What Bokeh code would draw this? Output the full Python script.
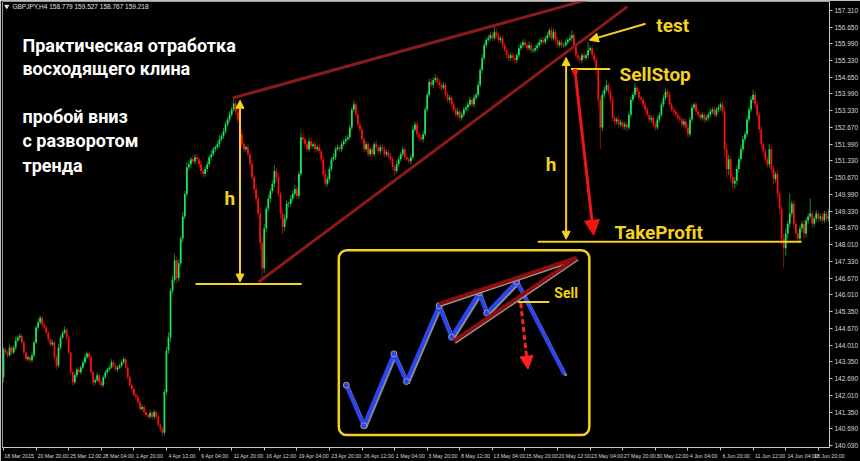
from bokeh.plotting import figure
from bokeh.models import (Range1d, FixedTicker, ColumnDataSource, BoxAnnotation,
                          Arrow, NormalHead, PrintfTickFormatter)
from bokeh.core.properties import value
from bokeh.embed import file_html
from bokeh.resources import INLINE

# GBPJPY H4 closes, bar by bar
close = [
    143.84, 143.72, 143.61, 143.92, 143.72, 143.92, 144.20, 144.32, 144.39, 144.12,
    143.72, 143.45, 143.53, 143.41, 143.61, 144.12, 144.71, 144.91, 145.10, 144.83,
    144.71, 144.51, 144.24, 144.04, 144.12, 143.53, 143.21, 143.92, 144.32, 144.51,
    144.63, 144.32, 143.72, 142.94, 142.54, 142.82, 143.05, 142.94, 143.13, 143.33,
    143.53, 143.68, 143.53, 142.94, 142.54, 142.62, 142.82, 142.54, 142.42, 142.74,
    142.94, 143.05, 143.13, 143.33, 143.21, 143.05, 143.13, 143.21, 143.33, 143.45,
    143.13, 142.74, 142.42, 142.27, 142.03, 141.95, 141.76, 141.48, 141.56, 141.36,
    141.24, 141.17, 141.32, 141.17, 141.36, 141.17, 140.85, 140.69, 140.53, 142.15,
    143.80, 144.32, 146.17, 146.60, 147.39, 146.68, 147.27, 148.25, 149.12, 150.02,
    151.08, 151.20, 151.40, 151.32, 151.48, 151.40, 151.20, 150.93, 150.81, 151.01,
    151.20, 151.48, 151.60, 151.80, 151.87, 151.99, 152.19, 152.31, 152.50, 152.78,
    152.98, 153.17, 153.37, 153.61, 153.29, 152.98, 152.39, 151.99, 151.80, 151.87,
    151.60, 151.20, 150.69, 150.22, 149.83, 149.24, 148.06, 147.07, 148.65, 149.43,
    149.83, 150.14, 150.42, 150.93, 150.69, 150.02, 149.24, 148.72, 149.04, 149.63,
    149.63, 149.83, 150.02, 150.22, 149.94, 150.81, 152.27, 152.19, 151.99, 151.80,
    152.11, 151.91, 151.99, 151.80, 151.87, 151.72, 151.40, 150.81, 150.42, 150.61,
    151.01, 151.40, 151.48, 151.80, 151.87, 151.80, 151.99, 152.11, 152.19, 152.27,
    152.66, 153.37, 153.57, 153.17, 152.78, 152.58, 152.19, 151.80, 151.99, 151.60,
    151.80, 151.60, 151.99, 151.87, 151.72, 151.87, 151.80, 151.60, 151.68, 151.52,
    151.40, 151.09, 150.93, 151.20, 151.40, 151.60, 151.80, 151.48, 151.40, 151.32,
    151.48, 152.58, 152.78, 152.39, 152.27, 152.19, 152.39, 153.37, 153.96, 154.47,
    154.35, 154.55, 154.63, 154.47, 154.35, 154.24, 154.35, 153.96, 153.76, 153.84,
    153.57, 153.37, 153.17, 153.29, 153.05, 153.17, 153.37, 153.45, 153.57, 153.76,
    153.57, 153.84, 153.96, 154.35, 154.94, 155.42, 155.93, 156.13, 156.20, 156.32,
    156.20, 156.44, 156.32, 156.13, 156.20, 155.93, 155.73, 155.53, 155.42, 155.53,
    155.42, 155.34, 155.53, 155.81, 155.93, 156.05, 155.93, 155.81, 155.93, 155.73,
    155.73, 155.81, 155.93, 156.05, 156.13, 156.05, 156.20, 156.32, 156.52, 156.20,
    156.44, 156.13, 155.93, 156.05, 155.93, 155.93, 156.05, 156.13, 156.20, 156.32,
    155.93, 155.53, 155.42, 155.34, 155.53, 155.42, 155.53, 155.73, 155.81, 155.53,
    155.34, 154.94, 153.76, 152.66, 153.96, 154.16, 154.35, 154.08, 153.76, 153.05,
    152.90, 152.98, 152.78, 152.86, 152.70, 152.78, 152.66, 153.17, 153.76, 153.96,
    154.24, 154.08, 153.84, 153.76, 153.57, 153.37, 153.17, 152.98, 153.05, 152.78,
    152.66, 152.98, 153.17, 153.57, 153.84, 154.08, 153.96, 153.57, 153.37, 153.29,
    153.17, 153.05, 152.98, 152.78, 152.90, 152.66, 152.39, 152.98, 153.45, 153.57,
    153.29, 153.17, 153.05, 153.17, 152.98, 153.05, 153.17, 153.29, 153.37, 153.17,
    153.37, 153.45, 153.57, 153.29, 151.80, 151.01, 151.40, 150.69, 150.42, 150.54,
    151.01, 151.40, 151.80, 152.19, 152.39, 152.98, 153.37, 153.76, 153.96, 153.57,
    153.17, 152.58, 151.99, 151.72, 151.40, 151.20, 151.80, 151.01, 150.61, 150.81,
    150.02, 149.43, 148.25, 147.86, 148.45, 148.84, 149.24, 149.63, 148.84, 148.45,
    148.25, 148.65, 148.84, 148.45, 148.96, 149.12, 149.24, 148.84, 149.04, 149.24,
    149.04, 149.12, 148.96, 149.24, 149.04, 149.12,
]
first_open = 142.74

# shadow lengths above / below the body, in pips (0.01 JPY)
upper_wick_pips = [
    10, 6, 8, 12, 7, 9, 14, 8, 10, 6, 8, 5, 9, 6, 12, 10, 8, 15, 9, 7,
    6, 10, 5, 8, 12, 7, 9, 14, 10, 8, 12, 6, 8, 5, 9, 10, 7, 12, 8, 10,
    15, 8, 6, 10, 5, 9, 12, 7, 10, 8, 9, 6, 8, 12, 7, 10, 8, 6, 11, 9,
    7, 10, 5, 8, 6, 9, 12, 7, 10, 8, 10, 6, 12, 8, 9, 7, 10, 6, 8, 12,
    15, 20, 10, 18, 25, 12, 15, 10, 18, 12, 20, 15, 10, 18, 12, 14, 9, 12, 16, 10,
    12, 8, 15, 10, 9, 12, 16, 10, 14, 11, 9, 14, 10, 23, 12, 15, 10, 18, 12, 9,
    14, 10, 16, 12, 20, 15, 25, 30, 18, 12, 16, 10, 14, 25, 12, 18, 10, 14, 16, 12,
    10, 14, 12, 16, 10, 12, 20, 15, 10, 14, 12, 16, 10, 12, 9, 14, 10, 12, 16, 10,
    12, 9, 14, 10, 12, 8, 11, 9, 13, 10, 12, 10, 15, 9, 12, 10, 14, 8, 12, 10,
    9, 12, 10, 14, 8, 11, 9, 12, 10, 8, 12, 10, 9, 14, 11, 10, 12, 8, 10, 9,
    12, 14, 10, 12, 9, 11, 14, 12, 10, 13, 12, 10, 14, 9, 12, 10, 11, 9, 12, 10,
    9, 12, 10, 14, 8, 12, 10, 9, 11, 12, 10, 12, 9, 14, 12, 16, 12, 10, 14, 12,
    14, 24, 12, 10, 9, 12, 10, 14, 9, 11, 10, 12, 9, 14, 11, 10, 12, 9, 13, 10,
    9, 12, 10, 13, 11, 12, 10, 14, 9, 16, 14, 10, 12, 9, 11, 10, 12, 9, 14, 20,
    12, 10, 14, 11, 9, 12, 10, 32, 10, 12, 14, 12, 10, 16, 14, 12, 18, 10, 12, 14,
    12, 10, 14, 12, 9, 12, 10, 14, 12, 10, 19, 10, 12, 9, 11, 10, 12, 9, 10, 12,
    10, 12, 9, 11, 12, 12, 10, 14, 9, 11, 10, 12, 9, 11, 10, 12, 14, 10, 12, 9,
    11, 10, 12, 9, 10, 12, 9, 11, 10, 12, 10, 12, 9, 14, 20, 25, 18, 14, 20, 16,
    15, 12, 18, 14, 12, 16, 12, 14, 20, 12, 14, 12, 16, 10, 14, 12, 20, 12, 14, 10,
    16, 12, 14, 18, 20, 14, 80, 12, 16, 12, 14, 10, 12, 16, 12, 14, 60, 12, 10, 14,
    12, 10, 14, 12, 10, 30,
]
lower_wick_pips = [
    20, 8, 10, 6, 9, 7, 10, 8, 12, 6, 10, 8, 6, 12, 7, 9, 6, 10, 8, 12,
    9, 7, 12, 8, 6, 14, 16, 8, 10, 7, 8, 12, 7, 10, 14, 8, 10, 6, 9, 7,
    8, 6, 10, 12, 16, 10, 7, 12, 9, 8, 7, 10, 8, 6, 9, 8, 10, 7, 9, 6,
    9, 12, 8, 10, 7, 12, 9, 11, 8, 10, 8, 10, 7, 12, 9, 10, 8, 12, 15, 10,
    12, 14, 18, 12, 10, 20, 14, 12, 15, 10, 14, 12, 15, 10, 12, 14, 16, 12, 15, 10,
    12, 10, 14, 9, 12, 10, 14, 9, 11, 10, 9, 12, 10, 8, 14, 12, 16, 14, 12, 10,
    12, 16, 14, 18, 20, 16, 25, 55, 20, 15, 12, 16, 10, 14, 18, 12, 20, 30, 16, 12,
    14, 10, 12, 9, 14, 12, 10, 16, 12, 10, 10, 12, 9, 14, 10, 12, 16, 12, 14, 10,
    12, 10, 9, 11, 8, 10, 12, 9, 10, 8, 9, 12, 10, 14, 12, 10, 14, 12, 10, 12,
    10, 12, 9, 11, 10, 12, 9, 13, 10, 12, 14, 12, 18, 10, 12, 9, 10, 12, 9, 11,
    12, 10, 9, 12, 14, 10, 12, 9, 11, 10, 9, 12, 10, 11, 12, 10, 9, 12, 11, 10,
    12, 14, 10, 12, 15, 11, 10, 9, 12, 10, 10, 12, 9, 11, 10, 12, 10, 12, 9, 11,
    10, 9, 12, 10, 11, 12, 10, 12, 14, 10, 12, 10, 11, 9, 10, 12, 10, 11, 9, 12,
    10, 9, 12, 10, 11, 12, 10, 9, 11, 10, 10, 12, 11, 9, 12, 10, 9, 11, 10, 12,
    18, 12, 14, 10, 12, 11, 10, 12, 9, 14, 12, 16, 30, 86, 14, 12, 10, 14, 12, 16,
    14, 12, 16, 10, 14, 12, 16, 10, 12, 10, 12, 10, 11, 12, 9, 14, 12, 10, 12, 11,
    14, 10, 12, 9, 11, 10, 12, 11, 10, 12, 10, 12, 14, 11, 12, 16, 14, 10, 12, 10,
    12, 10, 11, 12, 14, 10, 12, 11, 9, 10, 11, 10, 12, 14, 30, 35, 25, 20, 22, 18,
    16, 14, 12, 14, 10, 12, 14, 10, 12, 14, 12, 14, 16, 18, 12, 14, 12, 16, 20, 14,
    16, 20, 25, 79, 30, 20, 16, 14, 20, 18, 20, 16, 14, 22, 16, 14, 12, 18, 14, 12,
    14, 12, 16, 10, 12, 14,
]

# right price scale
price_ticks = [157.31, 156.65, 155.99, 155.33, 154.65, 153.99, 153.33, 152.67, 151.99,
               151.33, 150.67, 149.99, 149.33, 148.67, 148.01, 147.33, 146.67, 146.01,
               145.35, 144.67, 144.01, 143.35, 142.69, 142.01, 141.35, 140.69, 140.03]

# time scale: one label every 16 bars
time_labels = ["18 Mar 2015", "20 Mar 20:00", "25 Mar 12:00", "28 Mar 04:00", "1 Apr 20:00",
               "4 Apr 12:00", "9 Apr 04:00", "11 Apr 20:00", "16 Apr 12:00", "19 Apr 04:00",
               "23 Apr 20:00", "26 Apr 12:00", "1 May 04:00", "3 May 20:00", "8 May 12:00",
               "13 May 04:00", "15 May 20:00", "20 May 12:00", "23 May 04:00", "27 May 20:00",
               "30 May 12:00", "4 Jun 04:00", "6 Jun 20:00", "11 Jun 12:00", "14 Jun 04:00",
               "18 Jun 20:00"]
label_bars = [16 * k for k in range(len(time_labels))]

# schematic rising wedge for the inset (0..100 box units)
scheme_x = [3, 10, 22, 27, 40, 45, 56, 59, 71, 90]
scheme_y = [27, 5, 44, 29, 70, 53, 77, 66, 83, 33]

YELLOW = "#f5d21e"
WEDGE = "#8b1a1a"
TIME_FONT_PX = 5.3
PX_PER_BAR = 2.047
X_END = 405.5
Y_START, Y_END = 139.948, 157.664

n = len(close)
idx = list(range(n))
opens = [first_open] + close[:-1]
high = [max(o, c) + u / 100 for o, c, u in zip(opens, close, upper_wick_pips)]
low = [min(o, c) - d / 100 for o, c, d in zip(opens, close, lower_wick_pips)]
top = [max(o, c) if abs(o - c) > 0.015 else max(o, c) + 0.01 for o, c in zip(opens, close)]
bottom = [min(o, c) if abs(o - c) > 0.015 else min(o, c) - 0.01 for o, c in zip(opens, close)]
up = [c >= o for o, c in zip(opens, close)]
body_col = ["#1ee85a" if u else "#ff1010" for u in up]
wick_col = ["#0f8a32" if u else "#960c0c" for u in up]

src = ColumnDataSource(dict(x=idx, high=high, low=low, top=top, bottom=bottom,
                            body=body_col, wick=wick_col))

p = figure(width=860, height=461, output_backend="svg", toolbar_location=None,
           x_range=Range1d(-0.49, X_END), y_range=Range1d(Y_START, Y_END),
           y_axis_location="right", min_border_left=2, min_border_top=1,
           min_border_right=27, min_border_bottom=10,
           background_fill_color="black", border_fill_color="black")
p.grid.visible = False
p.outline_line_color = "#9a9a9a"
p.outline_line_width = 1

ya = p.yaxis[0]
ya.ticker = FixedTicker(ticks=price_ticks)
ya.formatter = PrintfTickFormatter(format="%.3f")
ya.major_label_text_font = "Liberation Sans"
ya.major_label_text_font_size = "6.5px"
ya.major_label_text_color = "#d8d8d8"
ya.major_label_standoff = 2
ya.major_tick_out = 3
ya.major_tick_in = 0
ya.minor_tick_out = 0
ya.minor_tick_in = 0
ya.axis_line_color = "#c8c8c8"
ya.major_tick_line_color = "#c8c8c8"

# time labels start just right of their tick, as on a trading terminal;
# the last one is pulled back inside the chart so the axis still draws it
xa = p.xaxis[0]
char_px = 0.49 * TIME_FONT_PX
label_shift = [(len(t) * char_px / 2 + 1.5) / PX_PER_BAR for t in time_labels]
shifted = [round(min(b + s, X_END - 0.1), 3) for b, s in zip(label_bars, label_shift)]
xa.ticker = FixedTicker(ticks=shifted, minor_ticks=label_bars)
xa.major_label_overrides = {t: lab for t, lab in zip(shifted, time_labels)}
xa.major_label_text_font = "Liberation Sans"
xa.major_label_text_font_size = f"{TIME_FONT_PX}px"
xa.major_label_text_color = "#d8d8d8"
xa.major_label_standoff = 2
xa.major_tick_out = 0
xa.major_tick_in = 0
xa.minor_tick_out = 3
xa.minor_tick_in = 0
xa.axis_line_color = "#c8c8c8"
xa.minor_tick_line_color = "#c8c8c8"

# candles
p.segment(x0="x", y0="low", x1="x", y1="high", line_color="wick", line_width=1, source=src)
p.vbar(x="x", width=0.85, top="top", bottom="bottom", fill_color="body",
       line_color=None, source=src)

# rising wedge boundaries
p.line([112.5, 286.8], [153.83, 157.74], line_color=WEDGE, line_width=3)
p.line([125.2, 306.3], [146.52, 157.46], line_color=WEDGE, line_width=3)

# pattern height, targets and entry
p.line([94.3, 146.4], [146.44, 146.44], line_color=YELLOW, line_width=2)
p.line([262.3, 391.8], [148.12, 148.12], line_color=YELLOW, line_width=2)
p.line([278.6, 297.8], [154.98, 154.98], line_color=YELLOW, line_width=2)


def yhead(size):
    return NormalHead(size=size, fill_color=YELLOW, line_color=YELLOW)


p.add_layout(Arrow(start=yhead(8), end=yhead(8), x_start=116.1, y_start=153.74,
                   x_end=116.1, y_end=146.52, line_color=YELLOW, line_width=2))
p.add_layout(Arrow(start=yhead(8), end=yhead(8), x_start=276.2, y_start=155.44,
                   x_end=276.2, y_end=148.22, line_color=YELLOW, line_width=2))
p.add_layout(Arrow(end=yhead(9), x_start=315.2, y_start=156.78, x_end=287.6,
                   y_end=156.13, line_color=YELLOW, line_width=2))
p.add_layout(Arrow(end=NormalHead(size=15, fill_color="#f01414", line_color="#f01414"),
                   x_start=280.6, y_start=154.88, x_end=289.7, y_end=148.38,
                   line_color="#f01414", line_width=3))
p.scatter([280.6], [154.88], size=5, color="#f01414")

# captions
title_font = value("Roboto")
p.text(x=[9.3] * 5, y=[155.93, 155.00, 153.08, 152.16, 151.16],
       text=["Практическая отработка", "восходящего клина", "пробой вниз",
             "с разворотом", "тренда"],
       text_font=title_font, text_font_style="bold", text_font_size="18px",
       text_color="white", text_baseline="alphabetic", text_align="left")
p.text(x=[108.5, 266.2, 320.5, 302.4, 300.0], y=[149.83, 151.20, 156.70, 154.75, 148.48],
       text=["h", "h", "test", "SellStop", "TakeProfit"],
       text_font=title_font, text_font_style="bold", text_font_size="19px",
       text_color=YELLOW, text_baseline="alphabetic", text_align="left")
p.text(x=[4.4], y=[157.46], text=["GBPJPY,H4  158.779 159.527 158.767 159.218"],
       text_font=value("Liberation Sans"), text_font_size="6.5px", text_color="#e0e0e0",
       text_baseline="middle", text_align="left")
p.scatter([1.6], [157.47], marker="inverted_triangle", size=4, color="#e0e0e0")

# inset: schematic of the wedge breakdown
L, R, T, B = 164.6, 287.6, 147.78, 140.44


def bx(u):
    return L + (R - L) * u / 100


def by(v):
    return B + (T - B) * v / 100


sx = [bx(u) for u in scheme_x]
sy = [by(v) for v in scheme_y]
p.line([x + 0.9 for x in sx], [y - 0.07 for y in sy], line_color="#8a8a8a", line_width=3)
p.line(sx, sy, line_color="#2a44f2", line_width=4)
p.scatter(sx[:-1], sy[:-1], size=6, fill_color="#2a44f2", line_color="#9a9a9a")
for (u0, v0) in [(40, 71), (46, 51)]:
    p.line([bx(u0) + 0.6, bx(95) + 0.6], [by(v0) - 0.08, by(96) - 0.08],
           line_color="#9a9a9a", line_width=2)
    p.line([bx(u0), bx(95)], [by(v0), by(96)], line_color="#8b0d0d", line_width=4)
p.line([bx(71.5), bx(84)], [by(72), by(72)], line_color=YELLOW, line_width=2)
p.text(x=[bx(86)], y=[by(76.8)], text=["Sell"], text_font=title_font,
       text_font_style="bold", text_font_size="14px", text_color=YELLOW,
       text_baseline="middle", text_align="left")
p.add_layout(Arrow(end=NormalHead(size=13, fill_color="#ff2020", line_color="#ff2020"),
                   x_start=bx(72.6), y_start=by(71.4), x_end=bx(75.5), y_end=by(35.7),
                   line_color="#ff2020", line_width=3, line_dash="5 3"))
p.add_layout(BoxAnnotation(left=L, right=R, top=T, bottom=B, fill_alpha=0,
                           line_color=YELLOW, line_alpha=1.0, line_width=2.5,
                           border_radius=8))

open("out.html", "w").write(file_html(p, INLINE))
